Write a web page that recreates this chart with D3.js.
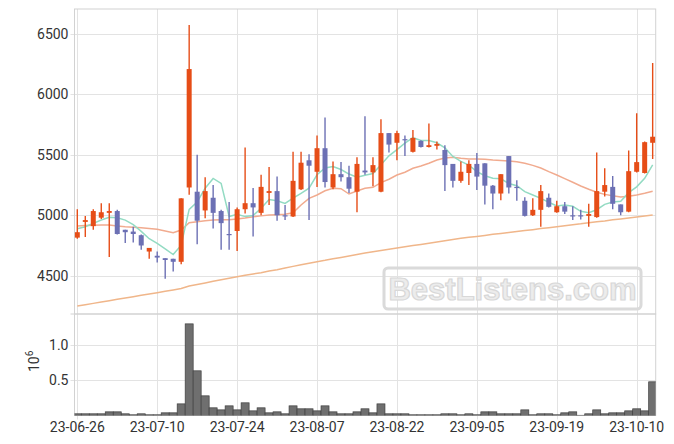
<!DOCTYPE html>
<html><head><meta charset="utf-8">
<script src="https://cdn.jsdelivr.net/npm/d3@7/dist/d3.min.js"></script>
<style>body{margin:0;background:#fff}svg{display:block}</style>
</head><body>
<svg id="c" width="674" height="444"></svg>
<script>
const dates = ["23-06-26","23-06-27","23-06-28","23-06-29","23-06-30","23-07-03","23-07-04","23-07-05","23-07-06","23-07-07",
"23-07-10","23-07-11","23-07-12","23-07-13","23-07-14","23-07-17","23-07-18","23-07-19","23-07-20","23-07-21",
"23-07-24","23-07-25","23-07-26","23-07-27","23-07-28","23-07-31","23-08-01","23-08-02","23-08-03","23-08-04",
"23-08-07","23-08-08","23-08-09","23-08-10","23-08-11","23-08-14","23-08-16","23-08-17","23-08-18","23-08-21",
"23-08-22","23-08-23","23-08-24","23-08-25","23-08-28","23-08-29","23-08-30","23-08-31","23-09-01","23-09-04",
"23-09-05","23-09-06","23-09-07","23-09-08","23-09-11","23-09-12","23-09-13","23-09-14","23-09-15","23-09-18",
"23-09-19","23-09-20","23-09-21","23-09-22","23-09-25","23-09-26","23-09-27","23-10-04","23-10-05","23-10-06",
"23-10-10","23-10-11","23-10-12"];
const open  = [4815,4945,4910,4980,5020,5035,4880,4865,4835,4700,4665,4645,4640,4615,5230,5195,5040,5145,5035,4845,
4870,5050,5100,5020,5185,5200,5000,4990,5215,5455,5360,5555,5230,5340,5315,5195,5370,5355,5195,5680,
5600,5630,5525,5615,5565,5575,5540,5425,5285,5350,5425,5430,5245,5180,5490,5235,5120,5000,5045,5145,
5025,5075,5000,5000,4995,4985,5195,5235,5090,5030,5360,5350,5600];
const high  = [5050,4995,5050,5100,5100,5045,4880,4905,4840,4730,4700,4645,4640,5140,6575,5500,5315,5250,5045,5110,
5065,5560,5225,5335,5400,5320,5085,5525,5525,5505,5660,5810,5445,5440,5410,5480,5820,5480,5795,5680,
5700,5660,5705,5620,5760,5610,5580,5425,5445,5455,5515,5430,5250,5340,5490,5290,5150,5140,5250,5180,
5120,5110,5075,5045,5095,5520,5390,5325,5090,5535,5845,5610,6260];
const low   = [4805,4820,4880,4970,4655,4840,4770,4775,4715,4640,4610,4475,4535,4595,5170,4760,4975,4890,4715,4715,
4705,5015,4825,5000,5085,4955,4960,4985,5210,4960,5235,5230,5215,5280,5185,5025,5335,5240,5190,5520,
5455,5490,5520,5560,5560,5545,5200,5230,5270,5250,5210,5090,5050,5125,5180,5120,4990,4995,4905,5065,
5020,5010,4960,4965,4905,4980,5155,5050,5000,5025,5355,5345,5465];
const close = [4860,4960,5035,5025,5035,4845,4860,4845,4750,4730,4650,4630,4615,5140,6210,4955,5200,5020,4935,4840,
5050,5100,5065,5235,5200,5000,4990,5285,5435,5410,5555,5275,5340,5315,5220,5425,5355,5415,5680,5585,
5680,5625,5640,5565,5580,5590,5415,5285,5360,5425,5320,5245,5180,5340,5230,5230,4995,5045,5200,5070,
5075,5030,4995,4995,5010,5200,5250,5095,5025,5365,5440,5605,5650];
const volume = [24e3,24e3,24e3,24e3,52e3,52e3,24e3,10e3,24e3,10e3,10e3,38e3,38e3,165e3,1300e3,634e3,279e3,109e3,80e3,137e3,
80e3,180e3,66e3,109e3,38e3,52e3,24e3,137e3,95e3,95e3,66e3,137e3,52e3,24e3,24e3,52e3,95e3,38e3,165e3,24e3,
24e3,24e3,10e3,10e3,10e3,10e3,24e3,24e3,10e3,24e3,10e3,52e3,52e3,24e3,24e3,24e3,80e3,10e3,24e3,24e3,
10e3,38e3,52e3,3e3,24e3,80e3,24e3,38e3,38e3,66e3,95e3,66e3,478e3];
const ma5 = [4889,4905,4933,4961,4983,4980,4960,4922,4867,4806,4767,4721,4675,4753,5049,5110,5224,5305,5264,4990,
5009,4989,4998,5058,5130,5120,5098,5142,5182,5224,5335,5392,5403,5379,5341,5315,5331,5346,5419,5492,
5543,5597,5642,5619,5618,5600,5558,5487,5446,5415,5361,5327,5306,5302,5263,5245,5195,5168,5140,5108,
5077,5084,5074,5033,5021,5046,5090,5110,5116,5187,5235,5306,5417];
const ma20 = [4911,4915,4918,4920,4919,4912,4905,4900,4896,4890,4884,4870,4856,4878,4939,4947,4955,4960,4962,4962,
4970,4978,4988,4995,5002,5005,5008,5021,5085,5140,5168,5203,5223,5220,5176,5201,5223,5231,5270,5298,
5333,5356,5389,5408,5430,5457,5474,5480,5471,5466,5466,5463,5457,5454,5449,5443,5430,5413,5391,5361,
5333,5303,5273,5242,5215,5190,5173,5162,5151,5157,5168,5182,5198];
const maLong = [4249,4260,4271,4282,4293,4305,4315,4326,4338,4348,4359,4371,4382,4394,4415,4427,4440,4454,4467,4479,
4492,4503,4514,4525,4538,4550,4564,4577,4590,4603,4616,4627,4640,4651,4663,4675,4687,4699,4708,4718,
4729,4739,4749,4759,4769,4779,4790,4799,4809,4818,4825,4833,4842,4849,4857,4866,4873,4881,4890,4897,
4905,4914,4922,4929,4938,4946,4953,4962,4970,4978,4986,4994,5002];
const priceTicks = [4500,5000,5500,6000,6500];
const volTicks = [0.5e6,1.0e6];
const volTickLabels = ["0.5","1.0"];
const dateTickIdx = [0,10,20,30,40,50,60,70];

const svg = d3.select("#c");
const L=74.5, R=655.7, T=9, M=314, B=415.5;
const x = d3.scaleLinear().domain([-0.35,72.38]).range([L,R]);
const y = d3.scaleLinear().domain([4183,6707]).range([M,T]);
const yv = d3.scaleLinear().domain([0,1.44e6]).range([B,M]);
const n = close.length;
const idx = d3.range(n);
const UP="#e64d17", DN="#6c70b4", GRID="#e3e3e3", FRAME="#d2d2d2";
const font="Roboto, 'Liberation Sans', sans-serif";

const defs = svg.append("defs");
defs.append("clipPath").attr("id","cp").append("rect").attr("x",L).attr("y",T).attr("width",R-L).attr("height",M-T);
defs.append("clipPath").attr("id","cv").append("rect").attr("x",L).attr("y",M).attr("width",R-L).attr("height",B-M);

// grid
const g = svg.append("g");
g.selectAll(".hg").data(priceTicks).join("line")
 .attr("x1",L-4).attr("x2",R).attr("y1",d=>Math.round(y(d))+0.5).attr("y2",d=>Math.round(y(d))+0.5)
 .attr("stroke",GRID).attr("stroke-width",1);
g.selectAll(".vg").data(volTicks).join("line")
 .attr("x1",L-4).attr("x2",R).attr("y1",d=>Math.round(yv(d))+0.5).attr("y2",d=>Math.round(yv(d))+0.5)
 .attr("stroke",GRID).attr("stroke-width",1);
g.selectAll(".xg").data(dateTickIdx).join("line")
 .attr("x1",d=>Math.round(x(d))+0.5).attr("x2",d=>Math.round(x(d))+0.5).attr("y1",T).attr("y2",B+4)
 .attr("stroke",GRID).attr("stroke-width",1);

// watermark
const wm = svg.append("g");
wm.append("rect").attr("x",384).attr("y",268).attr("width",257).attr("height",41).attr("rx",4)
 .attr("fill","none").attr("stroke","#dadada").attr("stroke-width",3);
wm.append("text").attr("x",512.5).attr("y",299.5).attr("text-anchor","middle")
 .attr("font-family","'Liberation Sans', Arial, sans-serif").attr("font-weight","bold").attr("font-size",31)
 .attr("fill","#ececec").attr("stroke","#d8d8d8").attr("stroke-width",1.2).text("BestListens.com");

// frames
svg.append("rect").attr("x",L).attr("y",T).attr("width",R-L).attr("height",M-T).attr("fill","none").attr("stroke",FRAME);
svg.append("rect").attr("x",L).attr("y",M).attr("width",R-L).attr("height",B-M).attr("fill","none").attr("stroke",FRAME);
svg.append("line").attr("x1",L-4).attr("x2",L).attr("y1",M).attr("y2",M).attr("stroke",FRAME);

// MA lines
const pg = svg.append("g").attr("clip-path","url(#cp)");
const line = arr => d3.line().x(i=>x(i)).y(i=>y(arr[i]))(idx);
pg.append("path").attr("d",line(maLong)).attr("fill","none").attr("stroke","#f0b68a").attr("stroke-width",1.5);
pg.append("path").attr("d",line(ma20)).attr("fill","none").attr("stroke","#f1ab8f").attr("stroke-width",1.5);
pg.append("path").attr("d",line(ma5)).attr("fill","none").attr("stroke","#93dbc3").attr("stroke-width",1.5);

// candles
const cw = 5;
const cg = pg.append("g");
cg.selectAll(".w").data(idx).join("line")
 .attr("x1",i=>x(i)).attr("x2",i=>x(i)).attr("y1",i=>y(high[i])).attr("y2",i=>y(low[i]))
 .attr("stroke",i=>close[i]>=open[i]?UP:DN).attr("stroke-width",1.4);
cg.selectAll(".b").data(idx).join("rect")
 .attr("x",i=>x(i)-cw/2).attr("width",cw)
 .attr("y",i=>y(Math.max(open[i],close[i])))
 .attr("height",i=>Math.max(1.2, Math.abs(y(open[i])-y(close[i]))))
 .attr("fill",i=>close[i]>=open[i]?UP:DN);

// volume
const vg = svg.append("g").attr("clip-path","url(#cv)");
const bw = x(1)-x(0);
vg.selectAll("rect").data(idx).join("rect")
 .attr("x",i=>x(i)-bw/2).attr("width",bw)
 .attr("y",i=>yv(volume[i])).attr("height",i=>yv(0)-yv(volume[i]))
 .attr("fill","#6f6f6f").attr("stroke","#3f3f3f").attr("stroke-width",0.7);

// axes labels
const ax = svg.append("g").attr("font-family",font).attr("font-size",14).attr("fill","#333");
ax.selectAll(".py").data(priceTicks).join("text")
 .attr("x",L-6).attr("y",d=>y(d)).attr("dy","0.35em").attr("text-anchor","end").text(d=>d);
ax.selectAll(".vy").data(volTicks).join("text")
 .attr("x",L-6).attr("y",d=>yv(d)).attr("dy","0.35em").attr("text-anchor","end").text((d,i)=>volTickLabels[i]);
ax.selectAll(".xt").data(dateTickIdx).join("text")
 .attr("x",d=>x(d)).attr("y",432).attr("text-anchor","middle").text(d=>dates[d]);
const exp = ax.append("text").attr("transform","translate(39,372) rotate(-90)").attr("text-anchor","start");
exp.append("tspan").text("10");
exp.append("tspan").attr("dy",-6).attr("font-size",10).text("6");
</script>
</body></html>
